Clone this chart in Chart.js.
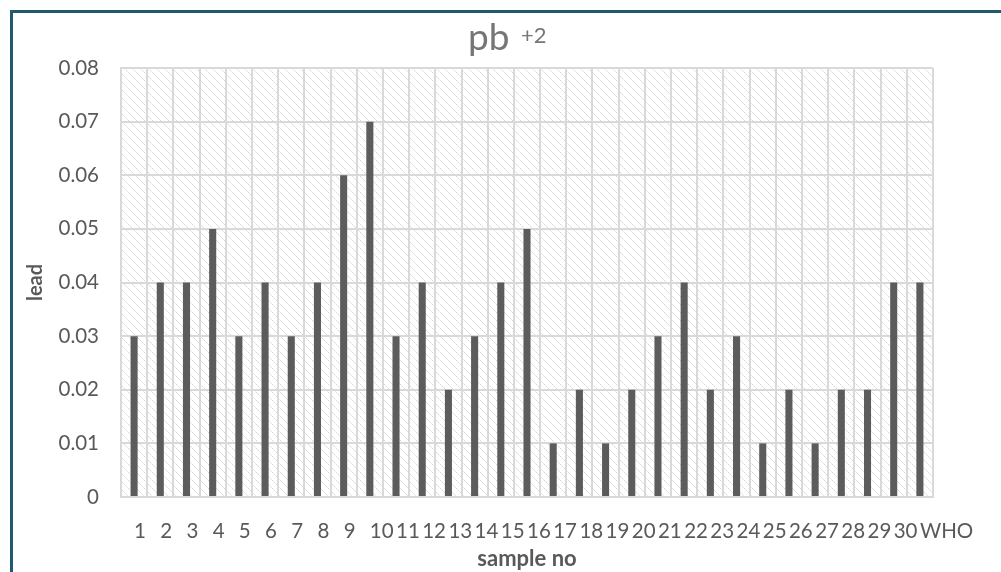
<!DOCTYPE html>
<html>
<head>
<meta charset="utf-8">
<script src="https://cdn.jsdelivr.net/npm/chart.js@4.4.0/dist/chart.umd.min.js"></script>
<style>
html, body { margin: 0; padding: 0; background: #fff; }
#wrap { position: relative; width: 1001px; height: 572px; overflow: hidden; }
#frame { position: absolute; left: 10px; top: 10px; width: 1100px; height: 700px;
  border-left: 3px solid #1f5a6e; border-top: 3px solid #1f5a6e; }
#chart { position: absolute; left: 0; top: 0; }
</style>
</head>
<body>
<div id="wrap">
  <div id="frame"></div>
  <canvas id="chart" width="1001" height="572"></canvas>
</div>
<script>
// 데이터
const sampleLabels = ['1','2','3','4','5','6','7','8','9','10','11','12','13','14','15','16','17','18','19','20',
  '21','22','23','24','25','26','27','28','29','30','WHO'];
const leadValues = [0.03,0.04,0.04,0.05,0.03,0.04,0.03,0.04,0.06,0.07,0.03,0.04,0.02,0.03,0.04,0.05,
  0.01,0.02,0.01,0.02,0.03,0.04,0.02,0.03,0.01,0.02,0.01,0.02,0.02,0.04,0.04];
const yTicks = [0, 0.01, 0.02, 0.03, 0.04, 0.05, 0.06, 0.07, 0.08];

const textColor = '#595959';
const fontName = 'Lato, "Open Sans", sans-serif';

// 빗금 배경 패턴
function makeHatch() {
    let c = document.createElement('canvas');
    c.width = 8; c.height = 8;
    let g = c.getContext('2d');
    for (let i = 0; i < 8; i++) {
        g.fillStyle = (i % 2 == 0) ? '#d6d6d6' : '#ebebeb';
        g.fillRect(i, i, 1, 1);
    }
    return g.createPattern(c, 'repeat');
}

const hatchPlugin = {
    id: 'hatch',
    beforeDraw(chart) {
        const a = chart.chartArea;
        const ctx = chart.ctx;
        ctx.save();
        ctx.fillStyle = makeHatch();
        ctx.fillRect(a.left, a.top, a.right - a.left, a.bottom - a.top);
        ctx.restore();
    }
};

// 제목 (pb +2)
const titlePlugin = {
    id: 'supTitle',
    afterDraw(chart) {
        const ctx = chart.ctx;
        ctx.save();
        ctx.fillStyle = '#767676';
        ctx.textBaseline = 'alphabetic';
        ctx.textAlign = 'left';
        ctx.font = '37px ' + fontName;
        ctx.fillText('pb', 468, 50);
        ctx.font = '22px ' + fontName;
        ctx.fillText('+2', 521, 43);
        ctx.restore();
    }
};

new Chart(document.getElementById('chart'), {
    type: 'bar',
    data: {
        labels: sampleLabels,
        datasets: [{
            label: 'lead',
            data: leadValues,
            backgroundColor: '#5c5c5c',
            borderWidth: 0,
            barPercentage: 0.27,
            categoryPercentage: 1
        }]
    },
    options: {
        responsive: false,
        animation: false,
        layout: { padding: { left: 20, right: 68, top: 68, bottom: 0 } },
        plugins: {
            legend: { display: false },
            title: { display: false },
            tooltip: { enabled: false }
        },
        scales: {
            x: {
                grid: { color: '#d9d9d9', lineWidth: 2, drawTicks: false, offset: true },
                border: { color: '#d9d9d9', width: 2 },
                ticks: {
                    autoSkip: false, maxRotation: 0, minRotation: 0,
                    align: 'start', padding: 22,
                    color: textColor, font: { family: fontName, size: 20.5 }
                },
                title: {
                    display: true, text: 'sample no', color: textColor,
                    font: { family: fontName, size: 22, weight: 'bold' },
                    padding: { top: 0, bottom: 0 }
                },
                afterFit(scale) { scale.height = 75; }
            },
            y: {
                min: 0, max: 0.08,
                afterBuildTicks(scale) { scale.ticks = yTicks.map(v => ({ value: v })); },
                grid: { color: '#d9d9d9', lineWidth: 2, drawTicks: false },
                border: { color: '#d9d9d9', width: 2 },
                ticks: {
                    padding: 22, color: textColor, font: { family: fontName, size: 20.5 },
                    callback: v => v == 0 ? '0' : v.toFixed(2)
                },
                title: {
                    display: true, text: 'lead', color: textColor,
                    font: { family: fontName, size: 20, weight: 'bold' },
                    padding: { top: 4, bottom: 0 }
                },
                afterFit(scale) { scale.width = 101; }
            }
        }
    },
    plugins: [hatchPlugin, titlePlugin]
});
</script>
</body>
</html>
